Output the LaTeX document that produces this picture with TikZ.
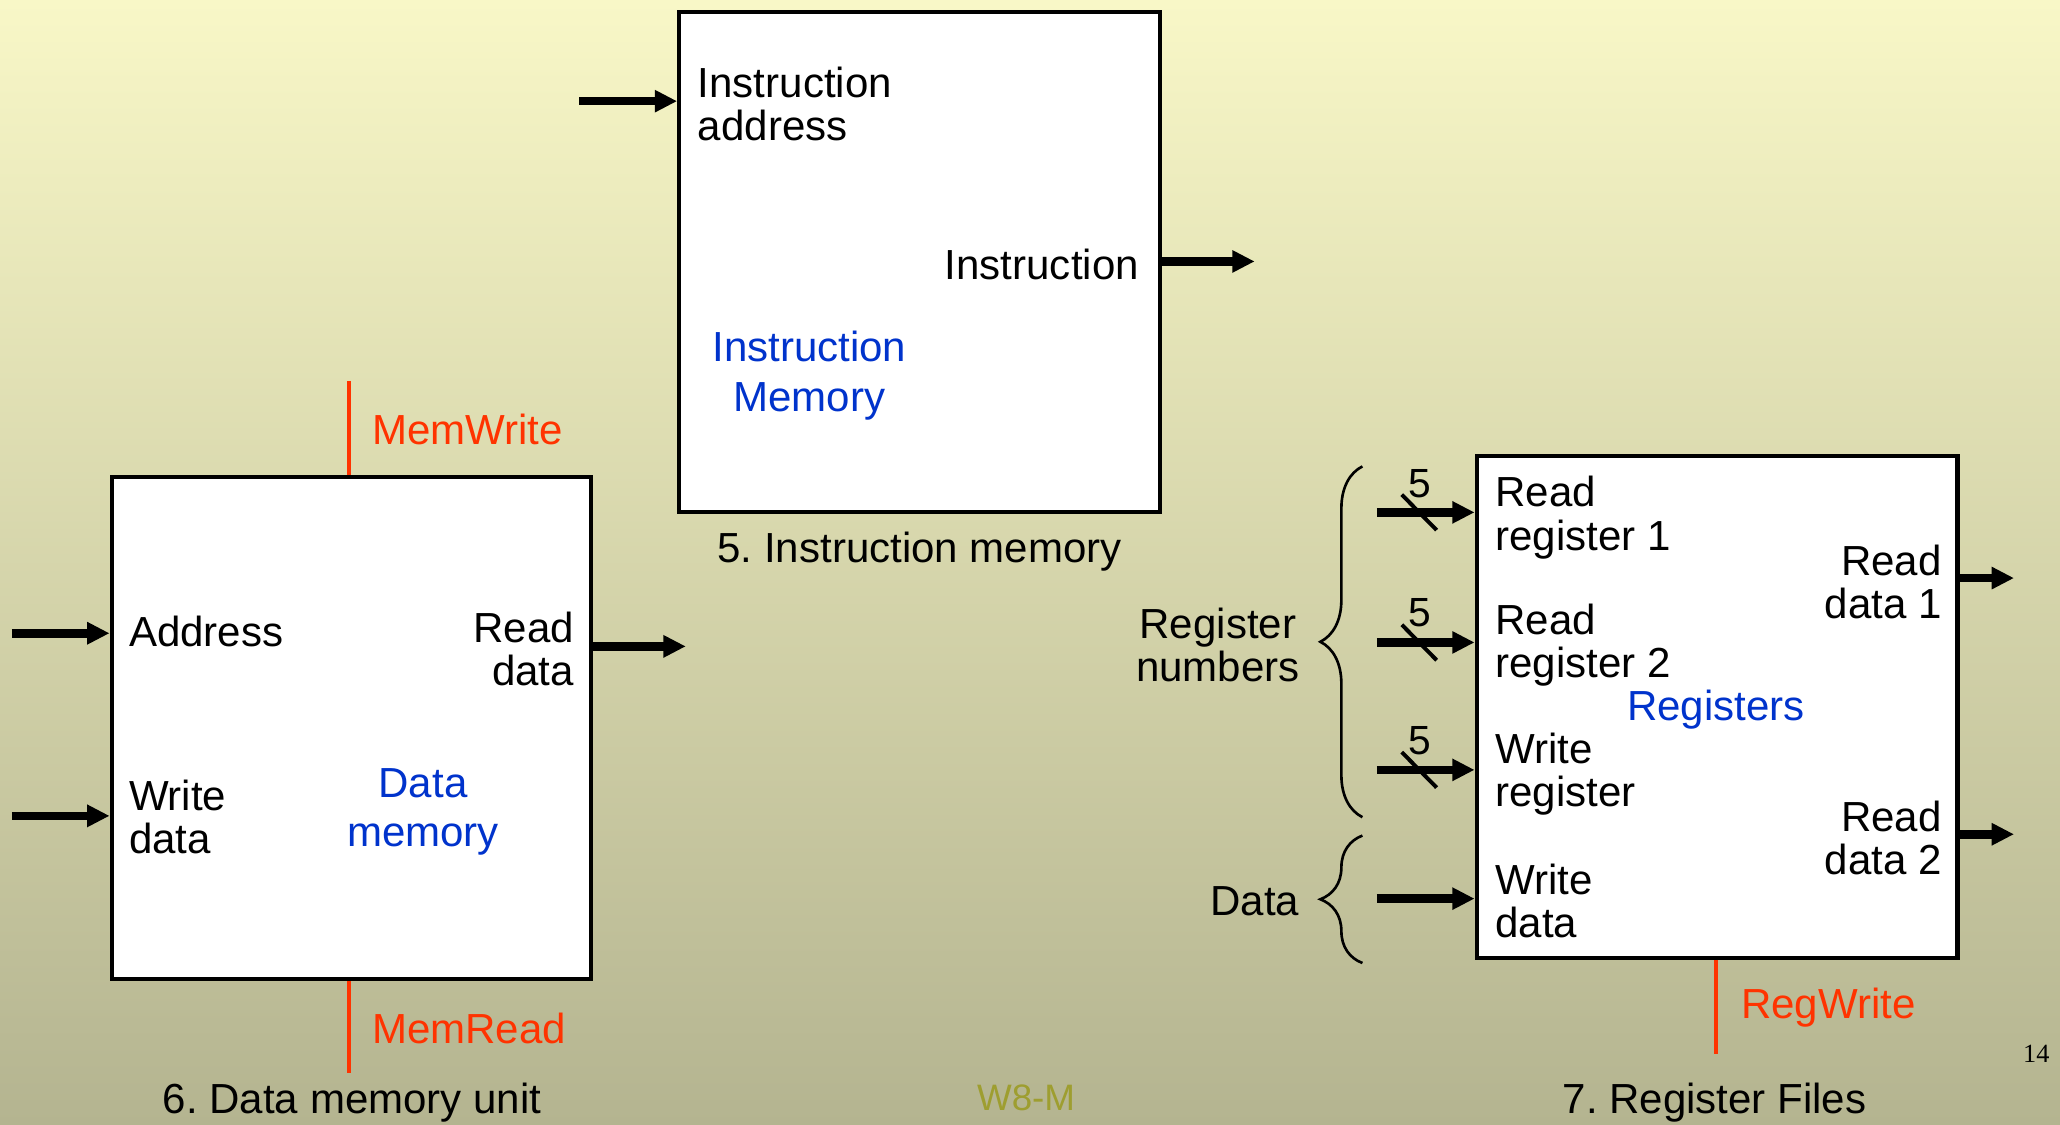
\documentclass[tikz,border=0pt]{standalone}
\usepackage{fontspec}
\setmainfont{Liberation Sans}
\newfontfamily\pageserif{Liberation Serif}
\usetikzlibrary{arrows.meta,decorations.pathreplacing}
\frenchspacing

\definecolor{bgtop}{RGB}{248,247,199}
\definecolor{bgbottom}{RGB}{180,180,144}
\definecolor{ctrlred}{RGB}{255,51,0}
\definecolor{unitblue}{RGB}{0,51,204}
\definecolor{tagolive}{RGB}{158,158,48}

\begin{document}
\begin{tikzpicture}[x=1pt,y=-1pt,
  unit/.style={draw=black, line width=3.2pt, fill=white, inner sep=0pt,
    minimum width=366pt, minimum height=381pt},
  lbl/.style={inner sep=0pt, font=\fontsize{32}{33}\selectfont},
  lblleft/.style={lbl, anchor=west, align=left},
  lblright/.style={lbl, anchor=east, align=right},
  unitname/.style={inner sep=0pt, font=\fontsize{32}{37.5}\selectfont,
    align=center, text=unitblue},
  ctrlname/.style={lbl, anchor=west, text=ctrlred},
  caption/.style={lbl},
  width5/.style={inner sep=0pt, font=\fontsize{31}{33}\selectfont},
  bus/.style={line width=6.5pt, -{Triangle[length=17pt,width=16pt]}},
  ctrl/.style={draw=ctrlred, line width=3pt},
  slash/.style={line width=3pt},
  curly/.style={decorate, decoration={brace, amplitude=32pt}, line width=2pt},
]
% page background
\shade[top color=bgtop, bottom color=bgbottom] (0,0) rectangle (1568,856);
\useasboundingbox (0,0) rectangle (1568,856);

% ---------- 5. Instruction memory ----------
\node[unit] (im) at (700,199.5) {};
\coordinate (imin) at (441,77);
\coordinate (imout) at (955,199);
\draw[bus] (imin) -- (imin -| im.west);
\draw[bus] (im.east |- imout) -- (imout);
\node[lblleft] (imaddr) at (531,79) {Instruction\\address};
\node[lblright] (iminstr) at (867,201) {Instruction};
\node[unitname] (imname) at (616,286) {Instruction\\Memory};
\node[caption] (imcap) at (700,420) {5. Instruction memory};

% ---------- 6. Data memory unit ----------
\node[unit, minimum width=365pt, minimum height=382pt] (dm) at (267.5,554) {};
\coordinate (mwtop) at (266,290);
\coordinate (mrbot) at (266,817);
\draw[ctrl] (mwtop) -- (mwtop |- dm.north);
\draw[ctrl] (mrbot |- dm.south) -- (mrbot);
\node[ctrlname] (mw) at (283,327) {MemWrite};
\node[ctrlname] (mr) at (283,783) {MemRead};
\coordinate (dmaddr) at (9,482);
\coordinate (dmwd) at (9,621);
\coordinate (dmout) at (522,492);
\draw[bus] (dmaddr) -- (dmaddr -| dm.west);
\draw[bus] (dmwd) -- (dmwd -| dm.west);
\draw[bus] (dm.east |- dmout) -- (dmout);
\node[lblleft] (addr) at (98,481) {Address};
\node[lblleft] (wdata) at (98,622) {Write\\data};
\node[lblright] (rdata) at (437,494) {Read\\data};
\node[unitname] (dmname) at (322,618) {Data\\memory};
\node[caption] (dmcap) at (268,839) {6. Data memory unit};

% ---------- 7. Register files ----------
\node[unit, minimum height=382pt] (rf) at (1307,538) {};
\coordinate (rin1) at (1048,390);
\coordinate (rin2) at (1048,489);
\coordinate (rin3) at (1048,586);
\coordinate (rin4) at (1048,684);
\foreach \p in {rin1,rin2,rin3,rin4}
  \draw[bus] (\p) -- (\p -| rf.west);
\foreach \p in {rin1,rin2,rin3}
  \draw[slash] (\p) ++(19,-13.5) -- ++(26.5,27);
\node[width5] (w1) at (1081,368) {5};
\node[width5] (w2) at (1081,466) {5};
\node[width5] (w3) at (1081,564) {5};
\node[lblleft] (rr1) at (1138,394) {Read\\register 1};
\node[lblleft] (rr2) at (1138,491) {Read\\register 2};
\node[lblleft] (wr) at (1138,589) {Write\\register};
\node[lblleft] (wd) at (1138,686) {Write\\data};
\node[unitname] (rfname) at (1306,540) {Registers};
\coordinate (rout1) at (1533,440);
\coordinate (rout2) at (1533,635);
\draw[bus] (rf.east |- rout1) -- (rout1);
\draw[bus] (rf.east |- rout2) -- (rout2);
\node[lblright] (rd1) at (1478,443) {Read\\data 1};
\node[lblright] (rd2) at (1478,638) {Read\\data 2};
\coordinate (rwbot) at (1306,802);
\draw[ctrl] (rwbot |- rf.south) -- (rwbot);
\node[ctrlname] (rw) at (1325,767) {RegWrite};
% braces grouping the inputs
\coordinate (rntop) at (1037,355);
\coordinate (rnbot) at (1037,622);
\coordinate (dttop) at (1037,636);
\coordinate (dtbot) at (1037,733);
\draw[curly] (rnbot) -- (rntop);
\draw[curly] (dtbot) -- (dttop);
\node[lbl, align=center] (regnum) at (927,491) {Register\\numbers};
\node[lblright] (datagrp) at (989,686) {Data};
\node[caption] (rfcap) at (1305,839) {7. Register Files};

% ---------- page footer ----------
\node[inner sep=0pt, font=\fontsize{28}{30}\selectfont, text=tagolive] (tag) at (781,836) {W8-M};
\node[inner sep=0pt, font=\pageserif\fontsize{20}{22}\selectfont] (pageno) at (1550,802) {14};
\end{tikzpicture}
\end{document}
